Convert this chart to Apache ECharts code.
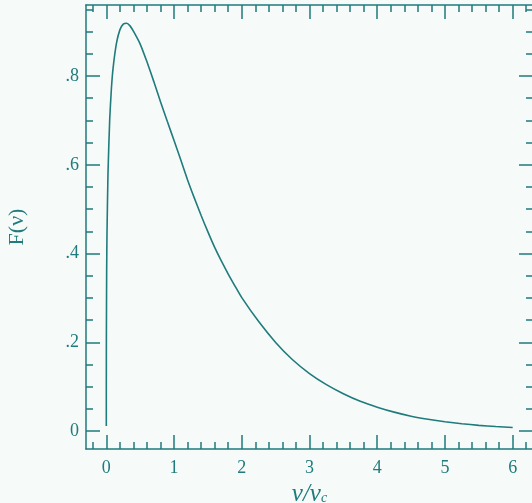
<!DOCTYPE html>
<html>
<head>
<meta charset="utf-8">
<script src="https://cdn.jsdelivr.net/npm/echarts@6/dist/echarts.min.js"></script>
<style>
html,body{margin:0;padding:0;background:#f6faf8;}
#c{width:532px;height:503px;}
</style>
</head>
<body>
<div id="c"></div>
<script>
// Data
var xValues = [0, 0.0001, 0.001, 0.005, 0.01, 0.025, 0.05, 0.075, 0.1, 0.15, 0.2, 0.25, 0.3, 0.35, 0.4, 0.5, 0.6, 0.7, 0.8, 0.9, 1.0, 1.1, 1.2, 1.3, 1.4, 1.5, 1.6, 1.7, 1.8, 1.9, 2.0, 2.25, 2.5, 2.75, 3.0, 3.25, 3.5, 3.75, 4.0, 4.25, 4.5, 4.75, 5.0, 5.25, 5.5, 5.75, 6.0];
var fValues = [0.012, 0.10, 0.213, 0.358, 0.445, 0.583, 0.702, 0.772, 0.818, 0.874, 0.904, 0.917, 0.919, 0.913, 0.901, 0.872, 0.832, 0.788, 0.742, 0.698, 0.655, 0.611, 0.566, 0.525, 0.486, 0.449, 0.414, 0.383, 0.354, 0.327, 0.301, 0.247, 0.200, 0.161, 0.130, 0.105, 0.0845, 0.0675, 0.0541, 0.0430, 0.0339, 0.0270, 0.0214, 0.0170, 0.0133, 0.0106, 0.0084];
var xMajorTicks = [0, 1, 2, 3, 4, 5, 6];
var xMinorTicks = [-0.2, 0.2, 0.4, 0.6, 0.8, 1.2, 1.4, 1.6, 1.8, 2.2, 2.4, 2.6, 2.8, 3.2, 3.4, 3.6, 3.8, 4.2, 4.4, 4.6, 4.8, 5.2, 5.4, 5.6, 5.8, 6.2];
var yMajorTicks = [0, 0.2, 0.4, 0.6, 0.8];
var yMinorTicks = [0.05, 0.1, 0.15, 0.25, 0.3, 0.35, 0.45, 0.5, 0.55, 0.65, 0.7, 0.75, 0.85, 0.9, 0.95];
var yTickLabels = ['0', '.2', '.4', '.6', '.8'];

var ink = '#1f7b7c';
var fontFam = '"Liberation Serif", "DejaVu Serif", serif';
var xMin = -0.3, xMax = 6.3, yMin = -0.04, yMax = 0.96;

function xAx(pos, ticks, len, showLine, showLabel, extra) {
  var a = {
    type: 'value', position: pos, min: xMin, max: xMax,
    axisLine: {show: showLine, onZero: false, lineStyle: {color: ink, width: 1.5}},
    axisTick: {show: true, inside: true, length: len, customValues: ticks, lineStyle: {color: ink, width: 1.5}},
    axisLabel: {show: showLabel, customValues: ticks, color: ink, fontFamily: fontFam, fontSize: 18, margin: 10},
    splitLine: {show: false}
  };
  if (extra) for (var k in extra) a[k] = extra[k];
  return a;
}
function yAx(pos, ticks, len, showLine, showLabel, extra) {
  var a = {
    type: 'value', position: pos, min: yMin, max: yMax,
    axisLine: {show: showLine, onZero: false, lineStyle: {color: ink, width: 1.5}},
    axisTick: {show: true, inside: true, length: len, customValues: ticks, lineStyle: {color: ink, width: 1.5}},
    axisLabel: {show: showLabel, customValues: ticks, color: ink, fontFamily: fontFam, fontSize: 18, margin: 7,
      formatter: function (v) { var i = yMajorTicks.indexOf(v); return i >= 0 ? yTickLabels[i] : ''; }},
    splitLine: {show: false}
  };
  if (extra) for (var k in extra) a[k] = extra[k];
  return a;
}

var data = xValues.map(function (x, i) { return [x, fValues[i]]; });

var chart = echarts.init(document.getElementById('c'), null, {renderer: 'canvas'});
chart.setOption({
  backgroundColor: '#f6faf8',
  animation: false,
  grid: {left: 86, right: -1, top: 5, bottom: 54, containLabel: false, outerBoundsMode: 'none'},
  xAxis: [
    xAx('bottom', xMajorTicks, 14, true, true, {
      name: '{i|ν/ν}{s|c}', nameLocation: 'middle', nameGap: 33,
      nameTextStyle: {verticalAlign: 'top', rich: {
        i: {fontFamily: fontFam, fontStyle: 'italic', fontSize: 25, lineHeight: 22, color: ink},
        s: {fontFamily: fontFam, fontStyle: 'italic', fontSize: 14, lineHeight: 22, color: ink, verticalAlign: 'bottom'}
      }}
    }),
    xAx('bottom', xMinorTicks, 7, false, false),
    xAx('top', xMajorTicks, 14, true, false),
    xAx('top', xMinorTicks, 7, false, false)
  ],
  yAxis: [
    yAx('left', yMajorTicks, 14, true, true, {
      name: 'F(ν)', nameLocation: 'middle', nameGap: 58, nameRotate: 90,
      nameTextStyle: {fontFamily: fontFam, fontSize: 22, color: ink}
    }),
    yAx('left', yMinorTicks, 7, false, false),
    yAx('right', yMajorTicks, 14, true, false),
    yAx('right', yMinorTicks, 7, false, false)
  ],
  series: [{
    type: 'line', xAxisIndex: 0, yAxisIndex: 0, data: data,
    showSymbol: false, smooth: 0.2,
    lineStyle: {color: ink, width: 1.6}
  }]
});
</script>
</body>
</html>
